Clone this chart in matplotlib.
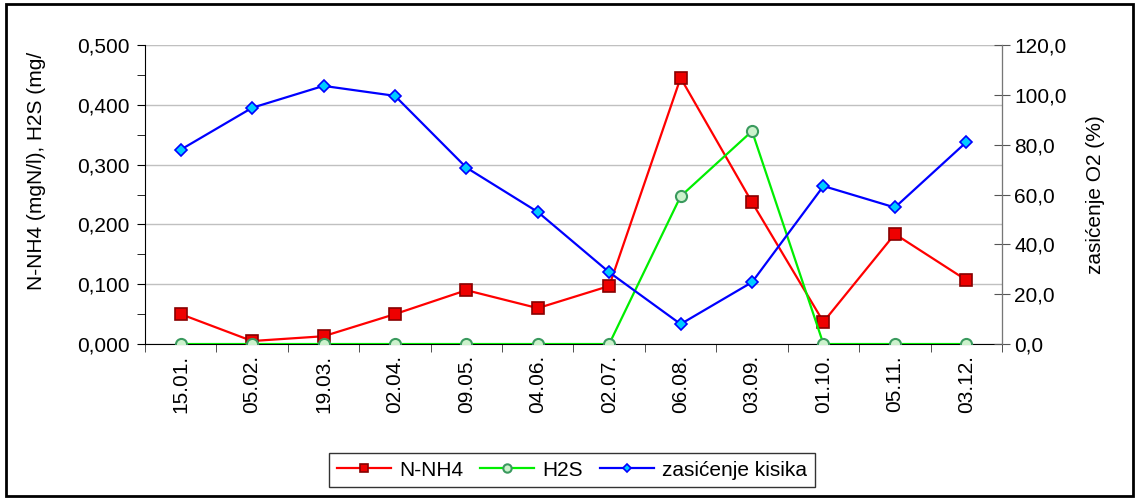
import matplotlib.pyplot as plt
import numpy as np
from matplotlib.ticker import FuncFormatter, MultipleLocator
from matplotlib.patches import Rectangle

plt.rcParams['font.family'] = ['Liberation Sans', 'DejaVu Sans']

# Dati
dates = ["15.01.", "05.02.", "19.03.", "02.04.", "09.05.", "04.06.",
         "02.07.", "06.08.", "03.09.", "01.10.", "05.11.", "03.12."]
nnh4 = [0.050, 0.005, 0.013, 0.050, 0.090, 0.060,
        0.097, 0.445, 0.237, 0.037, 0.184, 0.107]
h2s = [0.0, 0.0, 0.0, 0.0, 0.0, 0.0,
       0.0, 0.247, 0.356, 0.0, 0.0, 0.0]
o2 = [78.0, 94.8, 103.6, 99.6, 70.8, 53.0,
      28.8, 8.0, 24.8, 63.4, 54.8, 81.0]

x = np.arange(len(dates))
fs = 15

fig = plt.figure(figsize=(11.39, 4.98), dpi=100)
ax = fig.add_axes([0.1273, 0.3092, 0.7524, 0.6004])
ax2 = ax.twinx()

ax.plot(x, nnh4, color='#ff0000', lw=1.6, marker='s', ms=8,
        mfc='#ee0000', mec='#880000', mew=1.2, label='N-NH4', zorder=3)
ax.plot(x, h2s, color='#00ee00', lw=1.6, marker='o', ms=8,
        mfc='#ccf2cc', mec='#3a9a5e', mew=1.5, label='H2S', zorder=3)
ax2.plot(x, o2, color='#0000ff', lw=1.6, marker='D', ms=6,
         mfc='#00ccff', mec='#0000ff', mew=1.2, label='zasićenje kisika')

ax.set_xlim(-0.5, len(dates) - 0.5)
ax.set_ylim(0, 0.5)
ax2.set_ylim(0, 120)

ax.yaxis.set_major_locator(MultipleLocator(0.1))
ax.yaxis.set_minor_locator(MultipleLocator(0.05))
ax.yaxis.set_major_formatter(FuncFormatter(lambda v, p: f'{v:.3f}'.replace('.', ',')))
ax2.yaxis.set_major_locator(MultipleLocator(20))
ax2.yaxis.set_major_formatter(FuncFormatter(lambda v, p: f'{v:.1f}'.replace('.', ',')))

ax.set_xticks(x)
ax.set_xticklabels(dates, rotation=90, fontsize=fs)
ax.set_xticks(np.arange(-0.5, len(dates)), minor=True)
ax.tick_params(axis='x', which='major', length=0, pad=8)
ax.tick_params(axis='x', which='minor', length=6, color='#333333')
ax.tick_params(axis='y', which='both', length=6, labelsize=fs, pad=5)
ax2.tick_params(axis='y', direction='inout', length=12, labelsize=fs, color='#555555', pad=3)

ax.yaxis.grid(True, color='#c0c0c0', lw=1)
ax.set_axisbelow(True)
ax.spines['top'].set_visible(False)
ax2.spines['top'].set_visible(False)
ax2.spines['right'].set_color('#777777')
ax2.spines['left'].set_visible(False)
ax2.spines['bottom'].set_visible(False)
ax.axhline(0.5, color='#eeeeee', lw=1, zorder=0)

ax2.set_ylabel('zasićenje O2 (%)', fontsize=fs, labelpad=14)
fig.text(37 / 1139, 1 - 290 / 498, 'N-NH4 (mgN/l), H2S (mg/', rotation=90,
         ha='center', va='bottom', fontsize=fs)

h1, l1 = ax.get_legend_handles_labels()
h2, l2 = ax2.get_legend_handles_labels()
leg = fig.legend(h1 + h2, l1 + l2, loc='center', bbox_to_anchor=(572 / 1139, 1 - 470 / 498),
                 ncol=3, fontsize=fs, frameon=True, fancybox=False,
                 edgecolor='black', handlelength=2.6, handletextpad=0.4,
                 columnspacing=0.8, borderpad=0.35, markerscale=0.75)
leg.get_frame().set_linewidth(1)

fig.patches.append(Rectangle((0.005, 0.004), 0.99, 0.988, transform=fig.transFigure,
                             fill=False, edgecolor='black', lw=2))

fig.savefig('out.png', dpi=100)
